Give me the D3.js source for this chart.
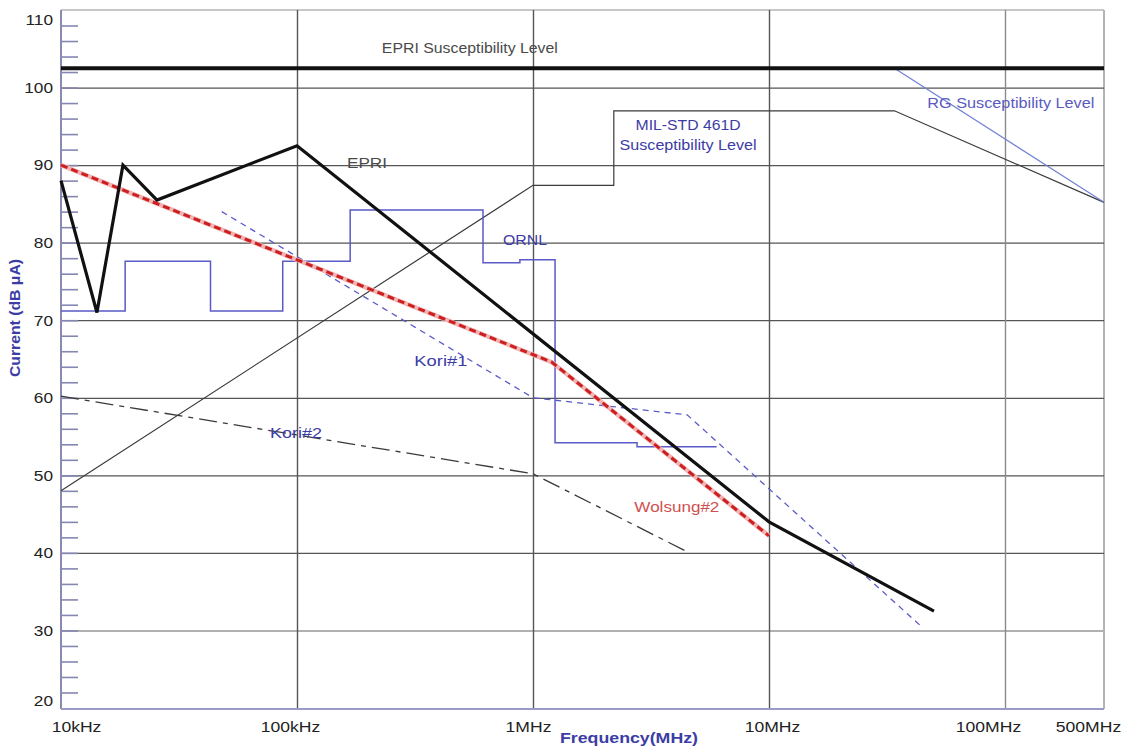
<!DOCTYPE html>
<html>
<head>
<meta charset="utf-8">
<script src="https://cdn.jsdelivr.net/npm/d3@7"></script>
<style>
  html, body { margin: 0; padding: 0; background: #fff; }
  svg { display: block; font-family: "Liberation Sans", Arial, sans-serif; }
</style>
</head>
<body>
<svg id="chart" width="1128" height="751"></svg>
<script>
// Frequency axis ticks and labels
const freqTicks = [1e4, 1e5, 1e6, 1e7, 1e8, 5e8];
const freqLabels = ["10kHz", "100kHz", "1MHz", "10MHz", "100MHz", "500MHz"];
// Current axis (dB μA)
const currentTicks = [20, 30, 40, 50, 60, 70, 80, 90, 100, 110];
const currentMinor = d3.range(22, 110, 2);

// EPRI measured envelope
const epriFreq = [1e4, 1.42e4, 1.83e4, 2.55e4, 1e5, 1e7, 5e7];
const epriVal  = [88, 71, 90, 85.5, 92.5, 44, 32.5];
// Wolsung#2
const wolsungFreq = [1e4, 1.2e6, 1e7];
const wolsungVal  = [90, 64.6, 42.2];
// Kori#1
const kori1Freq = [4.8e4, 1e6, 4.5e6, 4.5e7];
const kori1Val  = [84, 60, 57.8, 30.3];
// Kori#2
const kori2Freq = [1e4, 1e6, 4.6e6];
const kori2Val  = [60.2, 50.2, 40];
// ORNL (stepped)
const ornlFreq = [1e4, 1.87e4, 4.3e4, 8.7e4, 1.68e5, 6.14e5, 8.8e5, 1.24e6, 2.76e6, 6e6];
const ornlVal  = [71.2, 77.6, 71.2, 77.6, 84.2, 77.4, 77.8, 54.2, 53.7, 53.7];
// MIL-STD 461D susceptibility level
const milFreq = [1e4, 1e6, 2.2e6, 2.2e6, 3.4e7, 5e8];
const milVal  = [48, 87.4, 87.4, 97, 97, 85.2];
// RG susceptibility level
const rgFreq = [3.4e7, 5e8];
const rgVal  = [102.5, 85.2];
// EPRI susceptibility level
const epriLimFreq = [1e4, 5e8];
const epriLimVal  = [102.5, 102.5];

const svg = d3.select("#chart");

// log scale, last segment (100MHz-500MHz) compressed
const x = d3.scaleLog().domain([1e4, 1e8, 5e8]).range([61, 1005, 1104]);
const y = d3.scaleLinear().domain([20, 110]).range([708, 10]);
const x0 = x(1e4), x1 = x(5e8), yTop = y(110), yBot = 709;

const blueText = "#3c3ca6";

// frame: top and right borders
svg.append("line").attr("x1", x0).attr("x2", x1).attr("y1", yTop).attr("y2", yTop)
  .attr("stroke", "#c8c8c8").attr("stroke-width", 2);
svg.append("line").attr("x1", x1).attr("x2", x1).attr("y1", yTop).attr("y2", yBot)
  .attr("stroke", "#b4b4b4").attr("stroke-width", 2);

// horizontal grid
const hGrid = svg.append("g").attr("transform", `translate(${x0},0)`)
  .call(d3.axisLeft(y).tickValues(currentTicks.filter(v => v > 20 && v < 110))
    .tickSize(-(x1 - x0)).tickFormat(""));
hGrid.select(".domain").remove();
hGrid.selectAll(".tick line")
  .attr("stroke", d => d === 30 ? "#b0b0b0" : "#555")
  .attr("stroke-width", d => d === 30 ? 2 : 1.3);

// vertical grid
const vGrid = svg.append("g").attr("transform", `translate(0,${yBot})`)
  .call(d3.axisBottom(x).tickValues([1e5, 1e6, 1e7, 1e8])
    .tickSize(-(yBot - yTop)).tickFormat(""));
vGrid.select(".domain").remove();
vGrid.selectAll(".tick line")
  .attr("stroke", d => d === 1e8 ? "#8a8a8a" : "#555")
  .attr("stroke-width", 1.4);

// minor ticks on the left axis
const minor = svg.append("g").attr("transform", `translate(${x0},0)`)
  .call(d3.axisRight(y).tickValues(currentMinor).tickSize(17).tickFormat(""));
minor.select(".domain").remove();
minor.selectAll(".tick line").attr("stroke", "#8686b2").attr("stroke-width", 1.6);

// axis lines
svg.append("line").attr("x1", x0).attr("x2", x0).attr("y1", yTop).attr("y2", yBot)
  .attr("stroke", "#8a8ab0").attr("stroke-width", 2);
svg.append("line").attr("x1", x0).attr("x2", x1).attr("y1", yBot).attr("y2", yBot)
  .attr("stroke", "#9a9ac4").attr("stroke-width", 2);

// y tick labels
const yAx = svg.append("g").attr("transform", `translate(${x0},0)`)
  .call(d3.axisLeft(y).tickValues(currentTicks).tickSize(0).tickPadding(8));
yAx.select(".domain").remove();
yAx.selectAll("text")
  .attr("font-size", 15).attr("fill", "#222").attr("font-family", "Liberation Sans, Arial, sans-serif")
  .attr("dy", d => d === 110 ? "0.95em" : d === 20 ? "-0.15em" : "0.32em")
  .each(function () { this.setAttribute("textLength", this.getComputedTextLength() * 1.15); })
  .attr("lengthAdjust", "spacingAndGlyphs");

// x tick labels
const xShift = [15, -7, -5, 3, -17, -16];
const xAx = svg.append("g").attr("transform", `translate(0,${yBot})`)
  .call(d3.axisBottom(x).tickValues(freqTicks).tickSize(0).tickPadding(12)
    .tickFormat((d, i) => freqLabels[i]));
xAx.select(".domain").remove();
xAx.selectAll("text")
  .attr("font-size", 15).attr("fill", "#222").attr("font-family", "Liberation Sans, Arial, sans-serif")
  .attr("dx", (d, i) => xShift[i])
  .each(function () { this.setAttribute("textLength", this.getComputedTextLength() * 1.17); })
  .attr("lengthAdjust", "spacingAndGlyphs");

// axis titles
svg.append("text").attr("x", 629).attr("y", 743).attr("text-anchor", "middle")
  .attr("font-size", 15).attr("font-weight", "bold").attr("fill", blueText)
  .attr("textLength", 138).attr("lengthAdjust", "spacingAndGlyphs")
  .text("Frequency(MHz)");
svg.append("text").attr("transform", "translate(20,318) rotate(-90)")
  .attr("text-anchor", "middle")
  .attr("font-size", 14).attr("font-weight", "bold").attr("fill", blueText)
  .attr("textLength", 118).attr("lengthAdjust", "spacingAndGlyphs")
  .text("Current (dB μA)");

// series
const line = d3.line().x(d => x(d[0])).y(d => y(d[1]));
const stepLine = d3.line().x(d => x(d[0])).y(d => y(d[1])).curve(d3.curveStepAfter);

function draw(freq, val, gen, style) {
  const p = svg.append("path").datum(d3.zip(freq, val)).attr("d", gen)
    .attr("fill", "none").attr("stroke-linejoin", "miter");
  Object.entries(style).forEach(([k, v]) => p.attr(k, v));
  return p;
}

draw(milFreq, milVal, line, { stroke: "#3a3a3a", "stroke-width": 1.2 });
draw(rgFreq, rgVal, line, { stroke: "#7080d4", "stroke-width": 1.2 });
draw(kori2Freq, kori2Val, line, { stroke: "#3a3a3a", "stroke-width": 1.3, "stroke-dasharray": "18,6,5,6" });
draw(ornlFreq, ornlVal, stepLine, { stroke: "#5a5ac8", "stroke-width": 1.5 });
draw(kori1Freq, kori1Val, line, { stroke: "#5a5ac8", "stroke-width": 1.3, "stroke-dasharray": "6,5" });
draw(wolsungFreq, wolsungVal, line, { stroke: "#f2b4b4", "stroke-width": 4.5 });
draw(wolsungFreq, wolsungVal, line, { stroke: "#cc1f1f", "stroke-width": 3, "stroke-dasharray": "7,4" });
draw(epriFreq, epriVal, line, { stroke: "#111", "stroke-width": 3.2 });
draw(epriLimFreq, epriLimVal, line, { stroke: "#111", "stroke-width": 4 });

// series labels: [text, freq, current, width, colour]
const labels = [
  ["EPRI Susceptibility Level", 5.4e5, 105.1, 176, "#4a4a4a"],
  ["EPRI", 1.98e5, 90.3, 40, "#4a4a4a"],
  ["ORNL", 9.25e5, 80.3, 44, blueText],
  ["MIL-STD 461D", 4.54e6, 95.2, 105, blueText],
  ["Susceptibility Level", 4.54e6, 92.6, 137, blueText],
  ["RG Susceptibility Level", 1.1e8, 98.0, 167, "#5a5ac0"],
  ["Kori#1", 4.07e5, 64.7, 53, blueText],
  ["Kori#2", 9.9e4, 55.5, 52, blueText],
  ["Wolsung#2", 4.07e6, 45.9, 85, "#d05050"]
];
svg.append("g").selectAll("text").data(labels).join("text")
  .attr("x", d => x(d[1])).attr("y", d => y(d[2]))
  .attr("dy", "0.35em").attr("text-anchor", "middle")
  .attr("font-size", 14).attr("fill", d => d[4])
  .attr("textLength", d => d[3]).attr("lengthAdjust", "spacingAndGlyphs")
  .text(d => d[0]);
</script>
</body>
</html>
